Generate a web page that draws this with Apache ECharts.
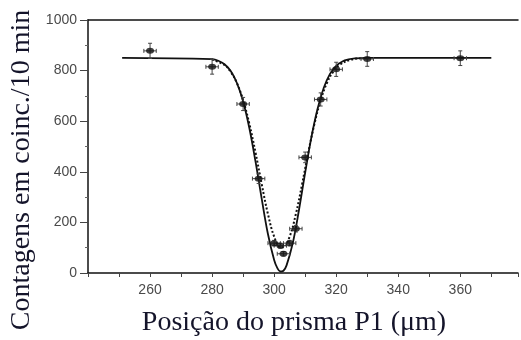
<!DOCTYPE html>
<html>
<head>
<meta charset="utf-8">
<script src="https://cdn.jsdelivr.net/npm/echarts@6/dist/echarts.min.js"></script>
<style>html,body{margin:0;padding:0;background:#fff}#c{width:521px;height:340px}</style>
</head>
<body>
<div id="c"></div>
<script>
// Measured points (position in µm, coincidence counts per 10 min)
const posX   = [260, 280, 290, 295, 300, 302, 303, 305, 307, 310, 315, 320, 330, 360];
const counts = [878, 815, 668, 373, 118, 108, 76, 118, 175, 457, 686, 805, 846, 849];
const xErr   = [2, 2, 2, 2, 2, 2, 2, 2, 2, 2, 2, 2, 2, 2];
const yErr   = [30, 29, 26, 19, 11, 10, 9, 11, 13, 21, 26, 28, 29, 29];

// Solid fitted curve
const solidX = [251, 280, 282, 284, 286, 288, 290, 292, 294, 296, 298, 300, 301, 302, 303, 304, 306, 308, 310, 312, 314, 316, 318, 320, 322, 324, 326, 330, 370];
const solidY = [850, 845, 839, 825, 798, 751, 678, 573, 440, 293, 154, 51, 20, 6, 9, 30, 118, 249, 397, 536, 649, 732, 787, 819, 836, 844, 848, 850, 850];

// Dotted curve
const dotX = [280, 284, 286, 288, 290, 292, 294, 296, 298, 300, 302, 303, 305, 307, 309, 311, 313, 315, 317, 319, 321, 325, 329];
const dotY = [844, 822, 795, 751, 683, 590, 476, 350, 233, 144, 102, 102, 144, 233, 350, 476, 590, 683, 751, 795, 822, 844, 849];

const xTickLabels = [260, 280, 300, 320, 340, 360];
const yTickLabels = [0, 200, 400, 600, 800, 1000];

const pts = posX.map((x, i) => [x, counts[i], xErr[i], yErr[i]]);
const solid = solidX.map((x, i) => [x, solidY[i]]);
const dotted = dotX.map((x, i) => [x, dotY[i]]);

const chart = echarts.init(document.getElementById('c'), null, {renderer: 'canvas'});
const axisCol = '#111';
const labCol = '#4a4a4a';
const serif = 'Liberation Serif';
chart.setOption({
  animation: false,
  backgroundColor: '#fff',
  grid: {left: 88, top: 20, right: 0, bottom: 67, containLabel: false},
  xAxis: [{
    type: 'value', min: 240, max: 378.6, interval: 10,
    axisLine: {show: true, lineStyle: {color: axisCol, width: 1.5}},
    axisTick: {show: true, inside: false, length: 4, lineStyle: {color: '#444', width: 1}},
    splitLine: {show: false},
    axisLabel: {
      margin: 10, color: labCol, fontFamily: 'Liberation Sans', fontSize: 14,
      formatter: v => xTickLabels.indexOf(v) >= 0 ? String(v) : ''
    }
  }, {
    type: 'value', position: 'top', min: 240, max: 378.6,
    axisLine: {show: true, lineStyle: {color: axisCol, width: 1.5}},
    axisTick: {show: false}, axisLabel: {show: false}, splitLine: {show: false}
  }],
  yAxis: {
    type: 'value', min: 0, max: 1000, interval: 200,
    axisLine: {show: true, lineStyle: {color: axisCol, width: 1.5}},
    axisTick: {show: true, inside: false, length: 8, lineStyle: {color: '#444', width: 1}},
    minorTick: {show: true, splitNumber: 2, length: 3, lineStyle: {color: '#666'}},
    splitLine: {show: false},
    axisLabel: {
      margin: 11, color: labCol, fontFamily: 'Liberation Sans', fontSize: 14,
      formatter: v => yTickLabels.indexOf(v) >= 0 ? String(v) : ''
    }
  },
  graphic: [
    {type: 'text', x: 22, y: 170, rotation: Math.PI / 2,
     style: {text: 'Contagens em coinc./10 min', fontFamily: serif, fontSize: 28, fontWeight: 'normal',
             fill: '#14142a', textAlign: 'center', textVerticalAlign: 'middle'}},
    {type: 'text', x: 294, y: 323,
     style: {text: 'Posição do prisma P1 (μm)', fontFamily: serif, fontSize: 28, fontWeight: 'normal',
             fill: '#14142a', textAlign: 'center', textVerticalAlign: 'middle'}}
  ],
  series: [
    {type: 'line', data: solid, smooth: 0.4, showSymbol: false, symbol: 'none',
     lineStyle: {color: '#111', width: 1.8}, z: 2},
    {type: 'line', data: dotted, smooth: 0.4, showSymbol: false, symbol: 'none',
     lineStyle: {color: '#111', width: 2, type: [2, 2]}, z: 2},
    {type: 'custom', data: pts, z: 3,
     renderItem: (params, api) => {
       const x = api.value(0), y = api.value(1), ex = api.value(2), ey = api.value(3);
       const top = api.coord([x, y + ey]), bot = api.coord([x, y - ey]);
       const lft = api.coord([x - ex, y]), rgt = api.coord([x + ex, y]);
       const c = 2;
       const st = {stroke: '#444', lineWidth: 1};
       return {type: 'group', children: [
         {type: 'line', shape: {x1: top[0], y1: top[1], x2: bot[0], y2: bot[1]}, style: st},
         {type: 'line', shape: {x1: top[0] - c, y1: top[1], x2: top[0] + c, y2: top[1]}, style: st},
         {type: 'line', shape: {x1: bot[0] - c, y1: bot[1], x2: bot[0] + c, y2: bot[1]}, style: st},
         {type: 'line', shape: {x1: lft[0], y1: lft[1], x2: rgt[0], y2: rgt[1]}, style: st},
         {type: 'line', shape: {x1: lft[0], y1: lft[1] - c, x2: lft[0], y2: lft[1] + c}, style: st},
         {type: 'line', shape: {x1: rgt[0], y1: rgt[1] - c, x2: rgt[0], y2: rgt[1] + c}, style: st}
       ]};
     }},
    {type: 'scatter', data: pts.map(p => [p[0], p[1]]), symbol: 'circle', symbolSize: [8, 6],
     itemStyle: {color: '#111'}, z: 4}
  ]
});
</script>
</body>
</html>
